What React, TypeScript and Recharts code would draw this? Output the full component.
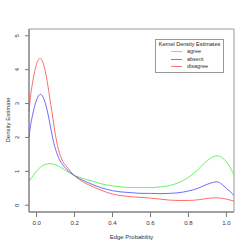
import React from 'react';
import {
  LineChart,
  Line,
  XAxis,
  YAxis,
  ReferenceArea,
} from 'recharts';

const xs = [
  -0.04, -0.03, -0.02, -0.01, 0, 0.01, 0.02, 0.03, 0.04, 0.05, 0.06, 0.07, 0.08, 0.09, 0.1,
  0.12, 0.14, 0.16, 0.18, 0.2, 0.25, 0.3, 0.35, 0.4, 0.45, 0.5, 0.55, 0.6, 0.65, 0.7, 0.75,
  0.8, 0.85, 0.9, 0.95, 1.0, 1.04,
];

const agree = [
  0.7, 0.78, 0.86, 0.94, 1.01, 1.07, 1.12, 1.16, 1.19, 1.21, 1.22, 1.23, 1.22, 1.21, 1.19,
  1.14, 1.07, 1.0, 0.94, 0.88, 0.78, 0.7, 0.62, 0.57, 0.54, 0.52, 0.52, 0.52, 0.54, 0.58, 0.67,
  0.82, 1.05, 1.32, 1.46, 1.28, 0.9,
];

const absent = [
  2.0, 2.41, 2.69, 2.93, 3.11, 3.23, 3.27, 3.23, 3.11, 2.93, 2.69, 2.41, 2.12, 1.85, 1.65,
  1.35, 1.18, 1.05, 0.95, 0.87, 0.72, 0.6, 0.5, 0.43, 0.39, 0.37, 0.35, 0.35, 0.34, 0.35, 0.37,
  0.42, 0.5, 0.62, 0.69, 0.5, 0.29,
];

const disagree = [
  2.75, 3.3, 3.65, 3.95, 4.17, 4.3, 4.33, 4.26, 4.09, 3.83, 3.51, 3.14, 2.8, 2.4, 2.05,
  1.55, 1.28, 1.13, 0.99, 0.87, 0.67, 0.54, 0.42, 0.33, 0.28, 0.25, 0.23, 0.21, 0.18, 0.15, 0.14,
  0.14, 0.16, 0.2, 0.22, 0.18, 0.12,
];

const seriesNames = ['agree', 'absent', 'disagree'];
const seriesColors = ['#40ee40', '#4848ff', '#ff4848'];
const xTicks = [0, 0.2, 0.4, 0.6, 0.8, 1.0];
const yTicks = [0, 1, 2, 3, 4, 5];

const data = xs.map((x, i) => ({
  x,
  agree: agree[i],
  absent: absent[i],
  disagree: disagree[i],
}));

const font = '"Liberation Sans", Arial, sans-serif';

const YTick = (props: any) => {
  const { y, payload } = props;
  return (
    <text
      x={19.5}
      y={y}
      transform={`rotate(-90, 19.5, ${y})`}
      textAnchor="middle"
      fontSize={6}
      fill="#333"
      fontFamily={font}
    >
      {payload.value}
    </text>
  );
};

const XTick = (props: any) => {
  const { x, payload } = props;
  return (
    <text x={x} y={225} textAnchor="middle" fontSize={6} fill="#333" fontFamily={font}>
      {payload.value.toFixed(1)}
    </text>
  );
};

export default function App() {
  return (
    <div style={{ position: 'fixed', left: 0, top: 0, width: 249, height: 249, background: '#fff' }}>
      <LineChart
        width={249}
        height={249}
        data={data}
        margin={{ top: 29, right: 15, left: 0, bottom: 0 }}
      >
        <XAxis
          dataKey="x"
          type="number"
          domain={[-0.04, 1.04]}
          ticks={xTicks}
          height={37}
          tickSize={5}
          tick={<XTick />}
          stroke="#777"
          interval={0}
        />
        <YAxis
          type="number"
          domain={[-0.2, 5.2]}
          ticks={yTicks}
          width={29}
          tickSize={4}
          tick={<YTick />}
          stroke="#777"
          interval={0}
        />
        <ReferenceArea
          x1={-0.04}
          x2={1.04}
          y1={-0.2}
          y2={5.2}
          fill="none"
          stroke="#999"
          strokeWidth={1}
        />
        {seriesNames.map((name, i) => (
          <Line
            key={name}
            dataKey={name}
            type="monotone"
            stroke={seriesColors[i]}
            strokeWidth={0.8}
            dot={false}
            isAnimationActive={false}
          />
        ))}
      </LineChart>
      <div
        style={{
          position: 'absolute',
          left: 8,
          top: 120,
          transform: 'translate(-50%, -50%) rotate(-90deg)',
          fontSize: 6,
          color: '#333',
          fontFamily: font,
          whiteSpace: 'nowrap',
        }}
      >
        Density Estimate
      </div>
      <div
        style={{
          position: 'absolute',
          left: 131.5,
          top: 237,
          transform: 'translate(-50%, -50%)',
          fontSize: 6,
          color: '#333',
          fontFamily: font,
          whiteSpace: 'nowrap',
        }}
      >
        Edge Probability
      </div>
      <div
        style={{
          position: 'absolute',
          left: 155,
          top: 39,
          width: 69,
          height: 34,
          border: '1px solid #999',
          fontFamily: font,
          fontSize: 5.5,
          color: '#333',
          boxSizing: 'border-box',
          whiteSpace: 'nowrap',
        }}
      >
        <div style={{ textAlign: 'center', marginTop: 1, lineHeight: '7px', color: '#222' }}>
          Kernel Density Estimates
        </div>
        {seriesNames.map((name, i) => (
          <div key={name} style={{ display: 'flex', alignItems: 'center', height: 7.5, marginLeft: 15 }}>
            <div style={{ width: 11, height: 1, background: seriesColors[i], opacity: 0.75 }} />
            <span style={{ marginLeft: 5, lineHeight: '7px' }}>{name}</span>
          </div>
        ))}
      </div>
    </div>
  );
}
